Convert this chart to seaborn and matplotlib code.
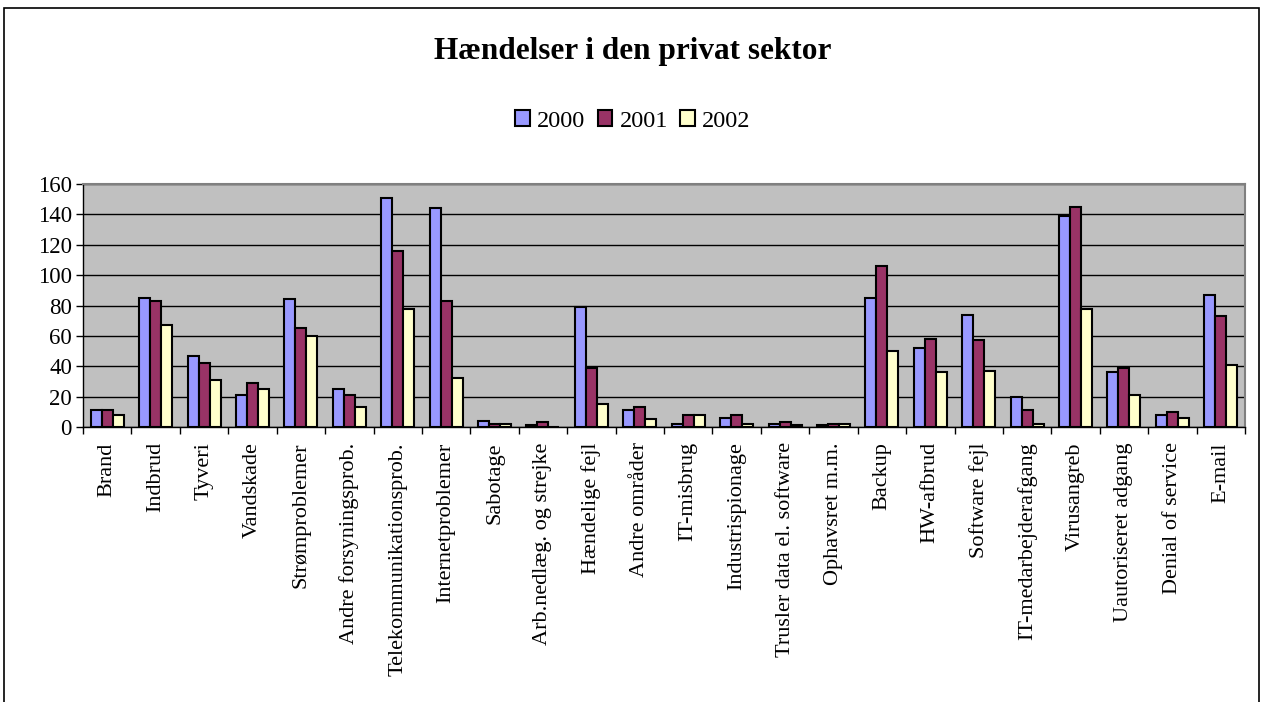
import numpy as np
import pandas as pd
import matplotlib
matplotlib.use("Agg")
import matplotlib.pyplot as plt
from matplotlib.patches import Rectangle
import seaborn as sns

kategorier = ["Brand", "Indbrud", "Tyveri", "Vandskade", "Strømproblemer",
              "Andre forsyningsprob.", "Telekommunikationsprob.", "Internetproblemer",
              "Sabotage", "Arb.nedlæg. og strejke", "Hændelige fejl", "Andre områder",
              "IT-misbrug", "Industrispionage", "Trusler data el. software",
              "Ophavsret m.m.", "Backup", "HW-afbrud", "Software fejl",
              "IT-medarbejderafgang", "Virusangreb", "Uautoriseret adgang",
              "Denial of service", "E-mail"]
aar = ["2000", "2001", "2002"]
v2000 = [11, 85, 47, 21, 84, 25, 151, 144, 4, 1, 79, 11, 2, 6, 2, 1, 85, 52, 74, 20, 139, 36, 8, 87]
v2001 = [11, 83, 42, 29, 65, 21, 116, 83, 2, 3, 39, 13, 8, 8, 3, 2, 106, 58, 57, 11, 145, 39, 10, 73]
v2002 = [8, 67, 31, 25, 60, 13, 78, 32, 2, 0, 15, 5, 8, 2, 1, 2, 50, 36, 37, 2, 78, 21, 6, 41]
farver = ["#9999FF", "#993366", "#FFFFCC"]

df = pd.DataFrame({
    "kategori": kategorier * 3,
    "aar": [a for a in aar for _ in kategorier],
    "antal": v2000 + v2001 + v2002,
})

sns.set_style("white")
plt.rcParams["font.family"] = ["Liberation Serif", "DejaVu Serif"]
plt.rcParams["text.color"] = "black"
plt.rcParams["xtick.color"] = "black"
plt.rcParams["ytick.color"] = "black"

fig = plt.figure(figsize=(12.66, 7.02), dpi=100)
ax = fig.add_axes([83 / 1266, 1 - 427 / 702, (1245 - 83) / 1266, (427 - 184) / 702])
ax.set_facecolor("#C0C0C0")

sns.barplot(data=df, x="kategori", y="antal", hue="aar", palette=farver,
            width=0.68, gap=0, edgecolor="black", linewidth=1.5, ax=ax,
            saturation=1, errorbar=None, zorder=3)

ax.set_ylim(0, 160)
ax.set_yticks(range(0, 161, 20))
ax.set_xlim(-0.5, len(kategorier) - 0.5)
ax.yaxis.grid(True, color="black", linewidth=1, zorder=0)
ax.set_axisbelow(True)
ax.set_xlabel("")
ax.set_ylabel("")

ax.tick_params(axis="y", direction="out", length=5, width=1, color="black",
               labelcolor="black", labelsize=16.5, left=True, pad=3)
ax.tick_params(axis="x", which="major", length=0, labelsize=16, labelcolor="black", pad=11)
ax.set_xticks(np.arange(len(kategorier) + 1) - 0.5, minor=True)
ax.tick_params(axis="x", which="minor", direction="out", length=5, width=1,
               color="black", bottom=True)
plt.setp(ax.get_xticklabels(), rotation=90, va="top", ha="center")

for side in ["left", "bottom"]:
    ax.spines[side].set_color("black")
    ax.spines[side].set_linewidth(1)
for side in ["top", "right"]:
    ax.spines[side].set_color("#808080")
    ax.spines[side].set_linewidth(1.5)

handles, labels = ax.get_legend_handles_labels()
ax.get_legend().remove()
fig.legend(handles, labels, loc="center", bbox_to_anchor=(0.5, 1 - 121 / 702),
           ncol=3, frameon=False, fontsize=17.5, handlelength=0.6, handleheight=0.6,
           handletextpad=0.3, columnspacing=0.5)

fig.text(0.5, 1 - 52 / 702, "Hændelser i den privat sektor", ha="center", va="center",
         fontsize=22.5, fontweight="bold", color="black")

fig.add_artist(Rectangle((4 / 1266, -0.1), (1259 - 4) / 1266, 1.1 - 8 / 702,
                         transform=fig.transFigure, fill=False, edgecolor="black",
                         linewidth=1.2))

fig.savefig("out.png", dpi=100)
